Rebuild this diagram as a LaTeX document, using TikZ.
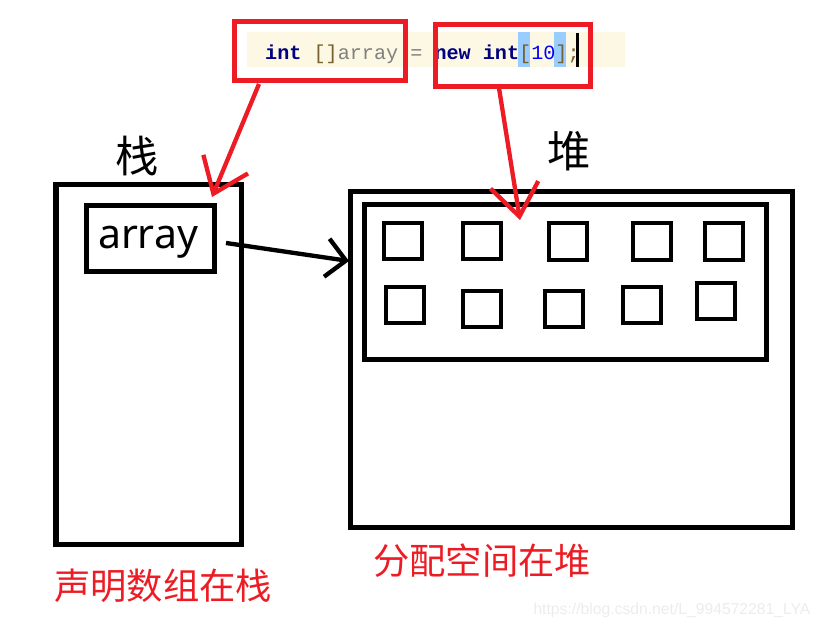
\documentclass[tikz,border=0pt]{standalone}
\usepackage{fontspec}
\usetikzlibrary{arrows.meta}

\newfontfamily\cjkfont{Noto Sans CJK SC}
\newfontfamily\codefont{Liberation Mono}
\newfontfamily\boxfont{Noto Sans}
\newfontfamily\urlfont{Liberation Sans}

\definecolor{paintred}{RGB}{237,28,36}
\definecolor{kw}{RGB}{0,0,128}
\definecolor{br}{RGB}{120,96,48}
\definecolor{id}{RGB}{128,128,128}
\definecolor{num}{RGB}{0,0,255}
\definecolor{hl}{RGB}{153,204,255}
\definecolor{band}{RGB}{252,248,228}
\definecolor{mark}{RGB}{236,236,236}

\begin{document}
\begin{tikzpicture}[x=0.3mm, y=-0.3mm]
	\tikzstyle{frame} = [rectangle, draw=black, line width=1.5mm, inner sep=0]
	\tikzstyle{cell} = [rectangle, draw=black, line width=1.2mm, inner sep=0, minimum width=11.6mm, minimum height=11mm]
	\tikzstyle{red_box} = [rectangle, draw=paintred, line width=1.5mm, inner sep=0]
	\tikzstyle{red_arrow} = [draw=paintred, line width=1.3mm, -{Straight Barb[length=9.6mm, width=14.5mm]}]
	\tikzstyle{black_arrow} = [draw=black, line width=1.3mm, -{Straight Barb[length=5.8mm, width=11.5mm]}]
	\tikzstyle{code_text} = [inner sep=0, font=\codefont\fontsize{17.2pt}{17.2pt}\selectfont]
	\tikzstyle{title_text} = [inner sep=0, font=\cjkfont\fontsize{37pt}{37pt}\selectfont]
	\tikzstyle{note_text} = [inner sep=0, text=paintred, font=\cjkfont\fontsize{31pt}{31pt}\selectfont]

	\useasboundingbox (0,0) rectangle (824,628);

%------------------------------------------------------------
	\node[fill=band, inner sep=0, minimum width=113.4mm, minimum height=10.5mm] (codeline) at (436,49.5) {};
	\fill[hl] (517.7,32) rectangle (529.8,67);
	\fill[hl] (554,32) rectangle (566,67);
	\node[code_text, anchor=base west] (code) at (265,60) {{\bfseries\color{kw}int} {\color{br}[]}{\color{id}array} {\color{id}=} {\bfseries\color{kw}new} {\bfseries\color{kw}int}{\color{br}[}{\color{num}10}{\color{br}]}{\color{br};}};
	\draw[line width=0.9mm] (577.5,33) -- (577.5,67);

	\node[red_box, minimum width=51.3mm, minimum height=17.7mm] (decl) at (319.5,51) {};
	\node[red_box, minimum width=46.5mm, minimum height=18.45mm] (alloc) at (513,55.75) {};

%------------------------------------------------------------

	\node[title_text] (stacktitle) at (137.5,156.5) {栈};
	\node[frame, minimum width=55.65mm, minimum height=107.85mm] (stack) at (148.75,364.25) {};
	\node[frame, minimum width=38.4mm, minimum height=19.8mm] (arr) at (150,238.5) {};
	\node[anchor=base, inner sep=0, font=\boxfont\fontsize{35pt}{35pt}\selectfont] (arrlabel) at (148,249) {array};

%------------------------------------------------------------

	\node[title_text] (heaptitle) at (569.5,151.5) {堆};
	\node[frame, minimum width=132.45mm, minimum height=100.65mm] (heap) at (571.25,359.25) {};
	\node[frame, minimum width=120.6mm, minimum height=46.35mm] (block) at (565,282.25) {};

	\node[cell] (c00) at (403,241) {};
	\node[cell] (c01) at (482,241) {};
	\node[cell] (c02) at (568,241.7) {};
	\node[cell] (c03) at (652,241.7) {};
	\node[cell] (c04) at (724,241.7) {};

	\node[cell] (c10) at (405,305) {};
	\node[cell] (c11) at (482,309) {};
	\node[cell] (c12) at (564,309) {};
	\node[cell] (c13) at (642,305) {};
	\node[cell] (c14) at (716,301) {};

%------------------------------------------------------------

	\coordinate (decl_tail) at (259,84);
	\coordinate (decl_tip) at (212,197);
	\coordinate (alloc_tail) at (499,88);
	\coordinate (alloc_tip) at (520,220);
	\coordinate (ref_tail) at (226,243);
	\coordinate (ref_tip) at (349,261);

	\draw[red_arrow] (decl_tail) -- (decl_tip);
	\draw[red_arrow] (alloc_tail) -- (alloc_tip);
	\draw[black_arrow] (ref_tail) -- (ref_tip);

%------------------------------------------------------------

	\node[note_text] (stacknote) at (163,585.5) {声明数组在栈};
	\node[note_text] (heapnote) at (482,560.5) {分配空间在堆};
	\node[inner sep=0, text=mark, font=\urlfont\fontsize{13.4pt}{13.4pt}\selectfont] (url) at (672,610) {https://blog.csdn.net/L\_994572281\_LYA};

\end{tikzpicture}
\end{document}
